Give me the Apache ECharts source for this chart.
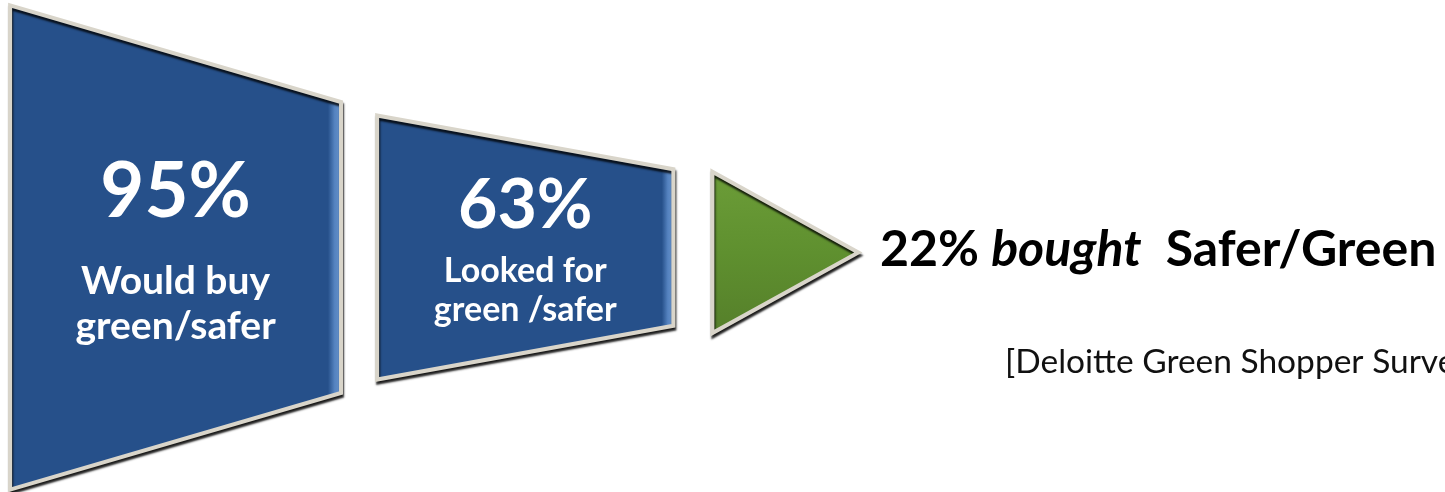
<!DOCTYPE html>
<html>
<head>
<meta charset="utf-8">
<script src="https://cdn.jsdelivr.net/npm/echarts@6/dist/echarts.min.js"></script>
<style>
  html, body { margin: 0; padding: 0; background: #fff; }
  #chart { width: 1445px; height: 492px; }
</style>
</head>
<body>
<div id="chart"></div>
<script>
// funnel stages
const STAGES = ['Would buy\ngreen/safer', 'Looked for\ngreen /safer', 'bought']
const PERCENTS = [95, 63, 22]
const OUTCOME_TAIL = 'Safer/Green'
const SOURCE = '[Deloitte Green Shopper Survey]'

const BLUE = '#26508a'
const BLUE_EDGE = '#5583c0'
const GREEN = '#5f902f'
const BEVEL = '#d9d5ca'

// outline of each stage in axis units (x: 0..100, y: -100..100)
const SHAPES = [
  { x0: 0.7, x1: 23.6, left: 99, right: 59.5, cy: 0, num: 22.5, cap: -23, big: 76, small: 39, lh: 45 },
  { x0: 26.1, x1: 46.6, left: 54, right: 32, cy: 0, num: 17, cap: -17.5, big: 68, small: 34, lh: 39 },
  { x0: 49.3, x1: 59.4, left: 33, right: 0, cy: -2 }
]

const chart = echarts.init(document.getElementById('chart'))

const renderItem = (params, api) => {
  const i = api.value(0)
  const pct = api.value(1)
  const s = SHAPES[i]
  const pts = [
    [s.x0, s.cy + s.left],
    [s.x1, s.cy + s.right],
    [s.x1, s.cy - s.right],
    [s.x0, s.cy - s.left]
  ].map(p => api.coord(p))
  const isLast = i === PERCENTS.length - 1
  const fill = isLast
    ? new echarts.graphic.LinearGradient(0, 0, 0, 1, [
      { offset: 0, color: '#6c9d38' },
      { offset: 0.5, color: GREEN },
      { offset: 1, color: '#557f2a' }
    ])
    : new echarts.graphic.LinearGradient(0, 0, 1, 0, [
      { offset: 0, color: BLUE },
      { offset: 0.955, color: BLUE },
      { offset: 0.975, color: BLUE_EDGE },
      { offset: 1, color: '#6d97cc' }
    ])
  const children = [{
    type: 'polygon',
    shape: { points: pts },
    style: {
      fill,
      stroke: BEVEL,
      lineWidth: 4,
      lineJoin: 'miter',
      shadowColor: 'rgba(0,0,0,0.8)',
      shadowBlur: 2,
      shadowOffsetX: 1,
      shadowOffsetY: 3
    }
  }]
  const cx = api.coord([(s.x0 + s.x1) / 2, 0])[0]
  if (!isLast) {
    children.push({
      type: 'text',
      style: {
        x: cx,
        y: api.coord([0, s.num])[1],
        text: pct + '%',
        fill: '#fff',
        font: 'bold ' + s.big + 'px Lato',
        align: 'center',
        verticalAlign: 'middle'
      }
    }, {
      type: 'text',
      style: {
        x: cx,
        y: api.coord([0, s.cap])[1],
        text: STAGES[i],
        fill: '#fff',
        font: 'bold ' + s.small + 'px Lato',
        lineHeight: s.lh,
        align: 'center',
        verticalAlign: 'middle'
      }
    })
  } else {
    const tip = api.coord([s.x1 + 1.5, s.cy + 1])
    children.push({
      type: 'text',
      style: {
        x: tip[0],
        y: tip[1],
        text: '{b|' + pct + '% }{i|' + STAGES[i] + '}{b|  ' + OUTCOME_TAIL + '}',
        verticalAlign: 'middle',
        rich: {
          b: { font: 'bold 50px Lato', fill: '#000' },
          i: { font: 'italic bold 50px Lato', fill: '#000' }
        }
      }
    })
  }
  return { type: 'group', children }
}

chart.setOption({
  backgroundColor: '#fff',
  animation: false,
  title: {
    text: SOURCE,
    left: 1000,
    top: 340,
    textStyle: { fontFamily: 'Lato', fontWeight: 'normal', fontSize: 33.5, color: '#111' }
  },
  grid: { left: 0, right: 0, top: 3, bottom: 0 },
  xAxis: { type: 'value', min: 0, max: 100, show: false },
  yAxis: { type: 'value', min: -100, max: 100, show: false },
  series: [{
    type: 'custom',
    renderItem,
    data: PERCENTS.map((v, i) => [i, v])
  }]
})
</script>
</body>
</html>
